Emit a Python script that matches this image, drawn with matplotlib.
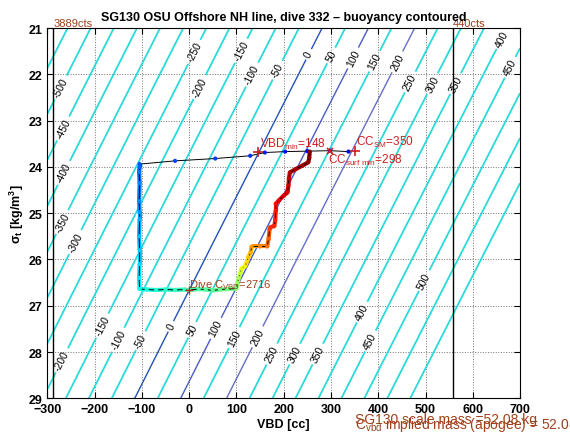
import numpy as np
import matplotlib
matplotlib.use('Agg')
import matplotlib.pyplot as plt
from matplotlib.collections import LineCollection

plt.rcParams['font.family'] = 'Liberation Sans'
plt.rcParams['mathtext.fontset'] = 'custom'
plt.rcParams['mathtext.rm'] = 'Liberation Sans'
plt.rcParams['mathtext.it'] = 'Liberation Sans:italic'
plt.rcParams['mathtext.bf'] = 'Liberation Sans:bold'

# Glider numbers
MassKg = 52.080
SigmaApogee = 26.66
VBDmin = 148
CCsm = 350
CCsurfmin = 298
CVBD = 2716
PumpLimitsVBD = [-288, 558]
PumpLimitsCts = ['3889cts', '440cts']

# Dive track (VBD [cc], sigma_t)
DiveVBD = [337, 298, 250, 203, 160, 129, 55, -30, -105,
           -105, -106, -105, -106, -105, -105, -106, -105, -105, -106, -105,
           -90, -70, -50, -30, -10, 0, 20, 35, 50, 65, 80, 100,
           102, 105, 108, 110, 118, 122, 125, 130, 132, 150, 165, 168, 170,
           172, 180, 182, 183, 183, 190, 200, 208, 210, 211, 213, 225, 240,
           252, 254, 255]
DiveSigma = [23.67, 23.65, 23.66, 23.67, 23.69, 23.76, 23.82, 23.87, 23.94,
             24.00, 24.11, 24.35, 24.74, 24.98, 25.13, 25.50, 25.80, 26.10, 26.40, 26.64,
             26.65, 26.66, 26.65, 26.66, 26.65, 26.66, 26.64, 26.65, 26.67, 26.65, 26.64, 26.63,
             26.50, 26.40, 26.30, 26.20, 26.15, 26.05, 25.95, 25.85, 25.72, 25.72, 25.72, 25.55, 25.35,
             25.30, 25.28, 25.15, 24.95, 24.80, 24.72, 24.62, 24.55, 24.40, 24.25, 24.12, 24.05, 23.97,
             23.90, 23.80, 23.67]

# Contour levels [g]
Levels = np.arange(-600, 650, 50)
BlueLevels = [0, 100, 200]
BlueColors = ['#2352b8', '#4a5cc4', '#6470c6']

# Where the contour labels sit (VBD, sigma, level)
LabelSpots = [(-273, 22.28, -500), (-273, 23.14, -450), (-273, 24.09, -400), (-267, 25.2, -350),
              (-246, 25.6, -300), (8, 21.5, -250), (23, 22.28, -200), (112, 21.5, -150),
              (139, 22.04, -100), (185, 21.9, -50), (251, 21.56, 0), (302, 21.6, 50),
              (351, 21.67, 100), (397, 21.74, 150), (442, 21.74, 200), (474, 22.2, 250),
              (524, 22.25, 300), (573, 22.25, 350), (672, 21.28, 400), (689, 21.9, 450),
              (-273, 28.16, -200), (-182, 27.44, -150), (-153, 27.72, -100), (-100, 27.77, -50),
              (-36, 27.46, 0), (12, 27.55, 50), (59, 27.5, 100), (101, 27.72, 150),
              (154, 27.72, 200), (186, 28.1, 250), (234, 28.1, 300), (283, 28.1, 350),
              (378, 27.2, 400), (397, 27.83, 450), (513, 26.54, 500)]

Brown = '#a0401a'
Red = '#cc2020'

# buoyancy [g] = displaced mass - glider mass, volume = V0 + VBD
MassG = MassKg * 1000
V0 = MassG * 1000 / (1000 + SigmaApogee)
VV, SS = np.meshgrid(np.linspace(-300, 700, 301), np.linspace(21, 29, 201))
Buoy = (V0 + VV) * (1000 + SS) / 1000 - MassG

fig = plt.figure(figsize=(5.7, 4.39), dpi=100)
ax = fig.add_axes([0.0833, 0.0904, 0.8290, 0.8435])
ax.set_xlim(-300, 700)
ax.set_ylim(29, 21)

CyanLevels = [l for l in Levels if l not in BlueLevels]
CS1 = ax.contour(VV, SS, Buoy, levels=CyanLevels, colors='#2adada', linewidths=1.3,
                 negative_linestyles='solid', zorder=2)
CS2 = ax.contour(VV, SS, Buoy, levels=BlueLevels, colors=BlueColors, linewidths=1.0,
                 negative_linestyles='solid', zorder=2)
T1 = ax.clabel(CS1, fmt='%d', fontsize=7.5, inline=True, inline_spacing=3, colors='k',
               manual=[(x, y) for x, y, l in LabelSpots if l not in BlueLevels])
T2 = ax.clabel(CS2, fmt='%d', fontsize=7.5, inline=True, inline_spacing=3, colors='k',
               manual=[(x, y) for x, y, l in LabelSpots if l in BlueLevels])

# text angle of the contours on screen
p0 = ax.transData.transform((0, 26.66))
p1 = ax.transData.transform((283, 21))
Angle = np.degrees(np.arctan2(p1[1] - p0[1], p1[0] - p0[0]))
for t in list(T1) + list(T2):
    t.set_rotation(Angle)

# pump limits
for v, t in zip(PumpLimitsVBD, PumpLimitsCts):
    ax.axvline(v, color='k', lw=1.0, zorder=3)
    ax.text(v, 21, t, color=Brown, fontsize=8, ha='left', va='bottom')

# dive track coloured by sample
N = len(DiveVBD)
Cpos = np.interp(np.arange(N), [0, 9, 19, 31, 35, 40, 45, N - 1],
                 [0.1, 0.22, 0.37, 0.5, 0.63, 0.75, 0.86, 1.0])
Cols = plt.cm.jet(Cpos)
Pts = np.column_stack([DiveVBD, DiveSigma])
Segs = np.stack([Pts[:-1], Pts[1:]], axis=1)
LC = LineCollection(Segs[8:], colors=Cols[8:-1], linewidths=3, zorder=4)
ax.add_collection(LC)
ax.plot(DiveVBD, DiveSigma, 'k-', lw=0.7, zorder=5)
ax.scatter(DiveVBD, DiveSigma, c=Cols, s=9, zorder=6, edgecolors='none')

# markers and notes
ax.plot(VBDmin - 2, 23.67, '+', color=Red, ms=7, mew=1.2, zorder=7)
ax.text(VBDmin + 2, 23.66, r'VBD$_{\mathrm{min}}$=%d' % VBDmin, color=Red, fontsize=8.5,
        ha='left', va='bottom', zorder=8)
ax.plot(CCsurfmin, 23.65, 'x', color=Red, ms=5, mew=1.2, zorder=7)
ax.text(CCsurfmin - 4, 23.67, r'CC$_{\mathrm{surf\ min}}$=%d' % CCsurfmin, color=Red,
        fontsize=8.5, ha='left', va='top', zorder=8)
ax.plot(CCsm, 23.66, '+', color=Red, ms=7, mew=1.2, zorder=7)
ax.text(CCsm + 2, 23.62, r'CC$_{\mathrm{SM}}$=%d' % CCsm, color=Red, fontsize=8.5,
        ha='left', va='bottom', zorder=8)
ax.plot(0, SigmaApogee, '+', color=Red, ms=6, mew=1.0, zorder=7)
ax.text(0, SigmaApogee + 0.02, r'Dive C$_{\mathrm{VBD}}$=%d' % CVBD, color=Brown, fontsize=8,
        ha='left', va='bottom', zorder=8)

ax.set_xticks(np.arange(-300, 701, 100))
ax.set_yticks(np.arange(21, 30, 1))
ax.grid(True, linestyle=':', color='0.45', lw=0.7)
ax.tick_params(direction='in', top=True, right=True, length=4, labelsize=9)
for lab in ax.get_xticklabels() + ax.get_yticklabels():
    lab.set_fontweight('bold')

ax.set_xlabel('VBD [cc]', fontsize=9, fontweight='bold', labelpad=2)
ax.set_ylabel(r'σ$_\mathbf{t}$ [kg/m$^\mathbf{3}$]', fontsize=9, fontweight='bold', labelpad=2)
ax.set_title('SG130 OSU Offshore NH line, dive 332 – buoyancy contoured',
             fontsize=9, fontweight='bold', pad=6)

fig.text(0.623, 0.043, 'SG130 scale mass =52.08 kg', color=Brown, fontsize=10, va='center')
fig.text(0.623, 0.032, r'C$_{\mathrm{vbd}}$ implied mass (apogee) = %.3f kg' % MassKg,
         color=Brown, fontsize=10, va='center')

plt.savefig('out.png', dpi=100)
